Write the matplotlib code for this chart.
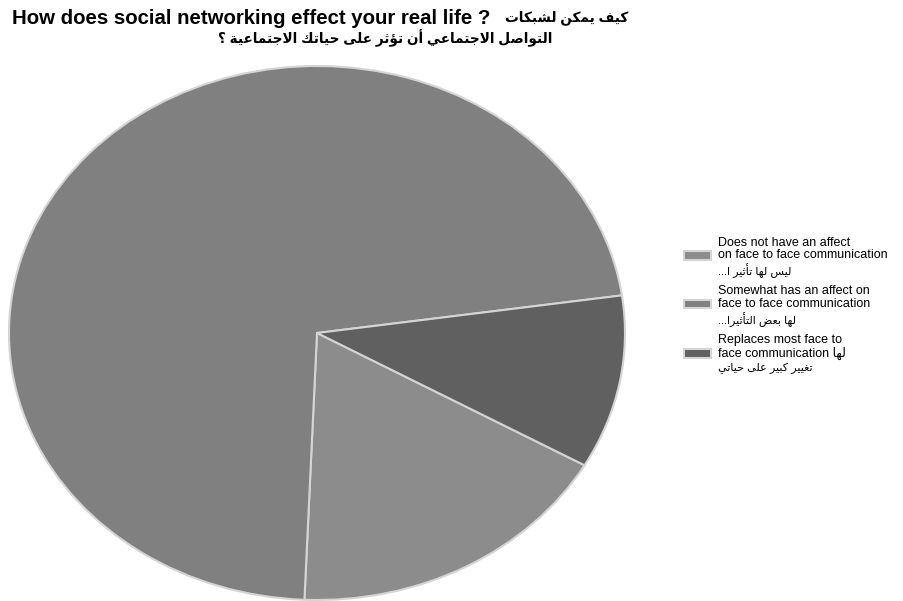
import matplotlib
matplotlib.use("Agg")
import matplotlib.pyplot as plt

# ---------------- data ----------------
title_en = "How does social networking effect your real life ?"
title_ar_1 = "كيف يمكن لشبكات"
title_ar_2 = "التواصل الاجتماعي أن تؤثر على حياتك الاجتماعية ؟"

label_en = ["Does not have an affect\non face to face communication",
            "Somewhat has an affect on\nface to face communication",
            "Replaces most face to\nface communication"]
label_ar_inline = ["", "", "لها"]
label_ar = ["ليس لها تأثير ا...",
            "لها بعض التأثيرا...",
            "تغيير كبير على حياتي"]
values = [17.4, 72.1, 10.5]
colors = ["#8c8c8c", "#808080", "#606060"]

# ------------- minimal Arabic shaping -------------
FORMS = {
    'ا': (0xFE8D, 0xFE8E), 'أ': (0xFE83, 0xFE84), 'إ': (0xFE87, 0xFE88),
    'آ': (0xFE81, 0xFE82), 'ؤ': (0xFE85, 0xFE86), 'ة': (0xFE93, 0xFE94),
    'ر': (0xFEAD, 0xFEAE), 'ز': (0xFEAF, 0xFEB0), 'د': (0xFEA9, 0xFEAA),
    'ذ': (0xFEAB, 0xFEAC), 'و': (0xFEED, 0xFEEE), 'ى': (0xFEEF, 0xFEF0),
    'ب': (0xFE8F, 0xFE90, 0xFE91, 0xFE92), 'ت': (0xFE95, 0xFE96, 0xFE97, 0xFE98),
    'ث': (0xFE99, 0xFE9A, 0xFE9B, 0xFE9C), 'ج': (0xFE9D, 0xFE9E, 0xFE9F, 0xFEA0),
    'ح': (0xFEA1, 0xFEA2, 0xFEA3, 0xFEA4), 'خ': (0xFEA5, 0xFEA6, 0xFEA7, 0xFEA8),
    'س': (0xFEB1, 0xFEB2, 0xFEB3, 0xFEB4), 'ش': (0xFEB5, 0xFEB6, 0xFEB7, 0xFEB8),
    'ص': (0xFEB9, 0xFEBA, 0xFEBB, 0xFEBC), 'ض': (0xFEBD, 0xFEBE, 0xFEBF, 0xFEC0),
    'ط': (0xFEC1, 0xFEC2, 0xFEC3, 0xFEC4), 'ع': (0xFEC9, 0xFECA, 0xFECB, 0xFECC),
    'غ': (0xFECD, 0xFECE, 0xFECF, 0xFED0), 'ف': (0xFED1, 0xFED2, 0xFED3, 0xFED4),
    'ق': (0xFED5, 0xFED6, 0xFED7, 0xFED8), 'ك': (0xFED9, 0xFEDA, 0xFEDB, 0xFEDC),
    'ل': (0xFEDD, 0xFEDE, 0xFEDF, 0xFEE0), 'م': (0xFEE1, 0xFEE2, 0xFEE3, 0xFEE4),
    'ن': (0xFEE5, 0xFEE6, 0xFEE7, 0xFEE8), 'ه': (0xFEE9, 0xFEEA, 0xFEEB, 0xFEEC),
    'ي': (0xFEF1, 0xFEF2, 0xFEF3, 0xFEF4), 'ئ': (0xFE89, 0xFE8A, 0xFE8B, 0xFE8C),
}
LAMALEF = {'ا': (0xFEFB, 0xFEFC), 'أ': (0xFEF7, 0xFEF8),
           'إ': (0xFEF9, 0xFEFA), 'آ': (0xFEF5, 0xFEF6)}


def shape(text):
    out = []
    i = 0
    n = len(text)
    while i < n:
        c = text[i]
        if c not in FORMS:
            out.append(c)
            i += 1
            continue
        prev = text[i - 1] if i > 0 else ''
        joins_prev = prev in FORMS and len(FORMS[prev]) == 4
        nxt = text[i + 1] if i + 1 < n else ''
        if c == 'ل' and nxt in LAMALEF:
            iso, fin = LAMALEF[nxt]
            out.append(chr(fin if joins_prev else iso))
            i += 2
            continue
        f = FORMS[c]
        joins_next = len(f) == 4 and nxt in FORMS
        if joins_prev and joins_next:
            out.append(chr(f[3]))
        elif joins_prev:
            out.append(chr(f[1]))
        elif joins_next:
            out.append(chr(f[2]))
        else:
            out.append(chr(f[0]))
        i += 1
    return ''.join(out)


def vis(text):
    # shaped and laid out right-to-left
    return shape(text)[::-1]


FAM = ['Liberation Sans', 'DejaVu Sans']
W, H = 904, 601

# ---------------- figure ----------------
fig = plt.figure(figsize=(W / 100, H / 100), dpi=100)
fig.patch.set_facecolor('white')

ax = fig.add_axes([9 / W, 1 / H, 616 / W, 534 / H])
wedges, _ = ax.pie(values, colors=colors, startangle=-29.7, counterclock=False,
                   wedgeprops=dict(edgecolor='#d4d4d4', linewidth=1.5))
ax.set_aspect('auto')
ax.set_xlim(-1.0, 1.0)
ax.set_ylim(-1.0, 1.0)
ax.axis('off')
for w in wedges:
    w.set_clip_on(False)

# title
fig.text(12 / W, 1 - 18 / H, title_en, ha='left', va='center',
         fontsize=14.7, fontweight='bold', family=FAM)
fig.text(628 / W, 1 - 18 / H, vis(title_ar_1), ha='right', va='center',
         fontsize=9.8, fontweight='bold', family=FAM)
fig.text(385 / W, 1 - 38 / H, vis(title_ar_2), ha='center', va='center',
         fontsize=9.8, fontweight='bold', family=FAM)

# legend
labels = []
for en, inl in zip(label_en, label_ar_inline):
    lab = en + ((" " + vis(inl)) if inl else "")
    labels.append(lab + "\n ")
leg = fig.legend(wedges, labels, loc='upper left',
                 bbox_to_anchor=(675 / W, 1 - 228 / H),
                 frameon=False, prop={'family': FAM, 'size': 9},
                 handlelength=2.2, handleheight=0.7, handletextpad=0.55,
                 labelspacing=0.9, borderpad=0.2)
for t in leg.get_texts():
    t.set_linespacing(1.07)

fig.canvas.draw()
renderer = fig.canvas.get_renderer()
for t, ar in zip(leg.get_texts(), label_ar):
    bb = t.get_window_extent(renderer)
    fig.text(bb.x0 / W, (bb.y0 + 3.5) / H, vis(ar), ha='left', va='center',
             fontsize=8.0, family=FAM, color='black')

fig.savefig("out.png", dpi=100, facecolor='white')
